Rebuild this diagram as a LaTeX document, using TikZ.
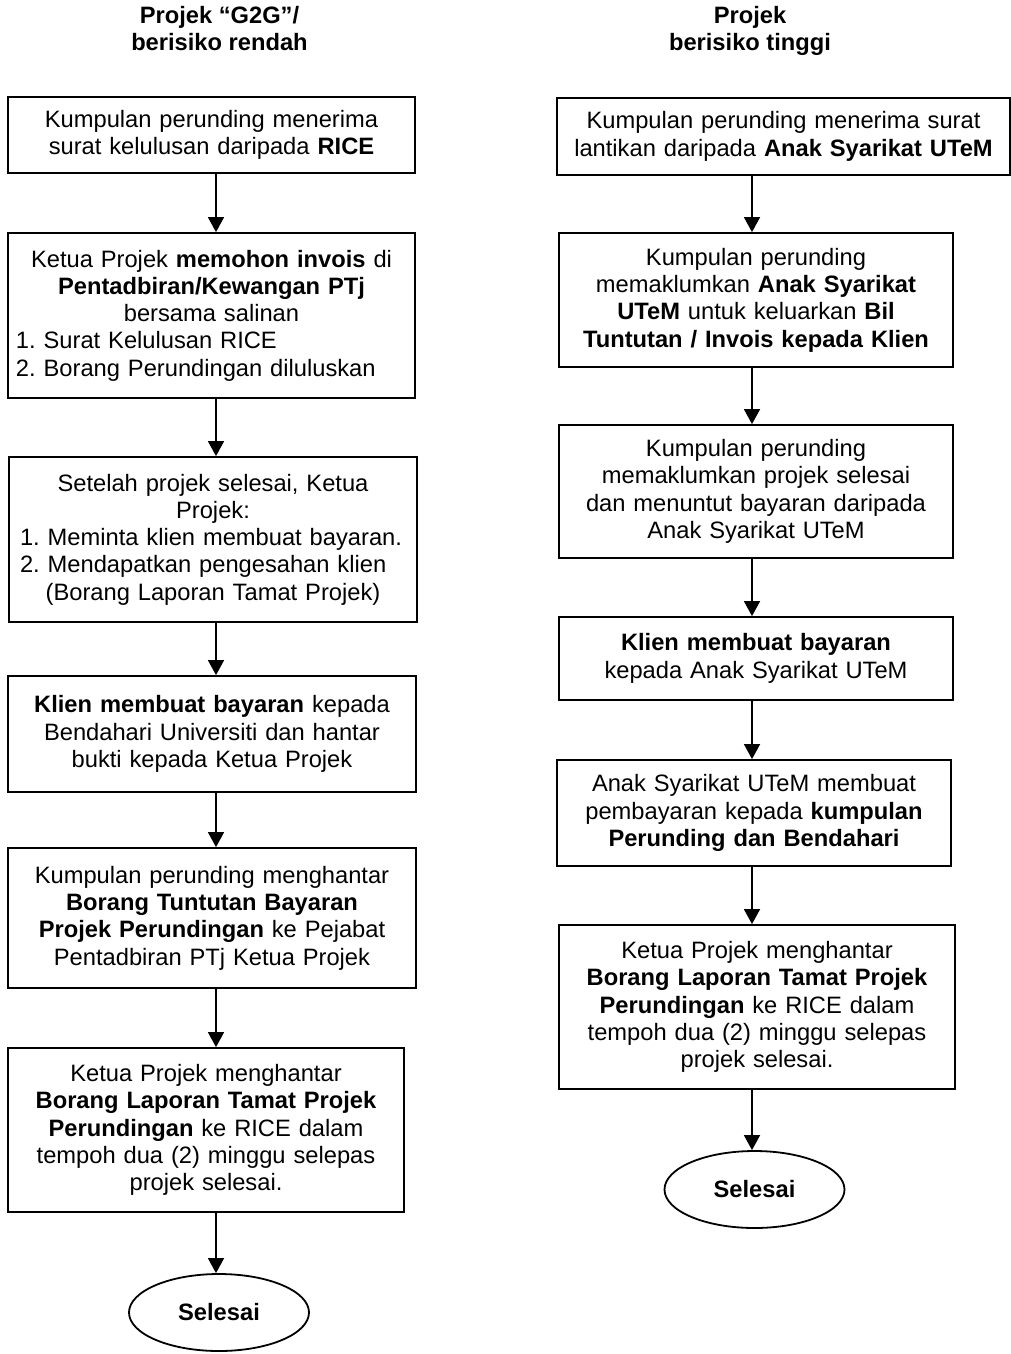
\documentclass[tikz,border=0pt]{standalone}
\usepackage{fontspec}
\setmainfont{Liberation Sans}
\frenchspacing
\usetikzlibrary{arrows.meta,shapes.geometric}
\tikzset{
  stepbox/.style={draw, line width=1.8pt, inner xsep=8pt, inner ysep=0pt, align=center, anchor=center,
    font=\fontsize{23.7pt}{27.3pt}\selectfont\frenchspacing},
  endoval/.style={draw, ellipse, line width=1.8pt, inner sep=0pt, minimum width=180pt, minimum height=77pt,
    font=\fontsize{23.7pt}{27.3pt}\selectfont\bfseries},
  coltitle/.style={align=center, anchor=north, inner sep=0pt,
    font=\fontsize{23.7pt}{27pt}\selectfont\bfseries},
  arr/.style={line width=1.6pt, -{Triangle[length=15pt,width=16pt]}}
}
\begin{document}
\begin{tikzpicture}[x=1pt,y=-1pt]
\useasboundingbox[fill=white] (0,0) rectangle (1011,1354);

% titles
\node[coltitle] (tl) at (219.5,6) {Projek “G2G”/\\berisiko rendah};
\node[coltitle] (tr) at (750,6) {Projek\\berisiko tinggi};

% left column
\node[stepbox, text width=391pt, minimum height=76pt] (L1) at (211.5,135)
  {Kumpulan perunding menerima\\surat kelulusan daripada \textbf{RICE}};
\node[stepbox, text width=391pt, minimum height=165pt] (L2) at (211.5,315.5)
  {Ketua Projek \textbf{memohon invois} di\\\textbf{Pentadbiran/Kewangan PTj}\\bersama salinan\\1. Surat Kelulusan RICE\hfill\null\\2. Borang Perundingan diluluskan\hfill\null};
\node[stepbox, text width=392pt, minimum height=165pt] (L3) at (213,539.5)
  {Setelah projek selesai, Ketua\\Projek:\\\hspace*{3pt}1. Meminta klien membuat bayaran.\hfill\null\\\hspace*{3pt}2. Mendapatkan pengesahan klien\hfill\null\\(Borang Laporan Tamat Projek)};
\node[stepbox, text width=392pt, minimum height=116pt] (L4) at (212,734)
  {\textbf{Klien membuat bayaran} kepada\\Bendahari Universiti dan hantar\\bukti kepada Ketua Projek};
\node[stepbox, text width=392pt, minimum height=140pt] (L5) at (212,918)
  {Kumpulan perunding menghantar\\\textbf{Borang Tuntutan Bayaran}\\\textbf{Projek Perundingan} ke Pejabat\\Pentadbiran PTj Ketua Projek};
\node[stepbox, text width=380pt, minimum height=164pt] (L6) at (206,1130)
  {Ketua Projek menghantar\\\textbf{Borang Laporan Tamat Projek}\\\textbf{Perundingan} ke RICE dalam\\tempoh dua (2) minggu selepas\\projek selesai.};
\node[endoval] (LE) at (219,1312.5) {Selesai};

% right column
\node[stepbox, text width=437pt, minimum height=77pt] (R1) at (783.5,136.5)
  {Kumpulan perunding menerima surat\\lantikan daripada \textbf{Anak Syarikat UTeM}};
\node[stepbox, text width=378pt, minimum height=134pt] (R2) at (756,300)
  {Kumpulan perunding\\memaklumkan \textbf{Anak Syarikat}\\\textbf{UTeM} untuk keluarkan \textbf{Bil}\\\textbf{Tuntutan / Invois kepada Klien}};
\node[stepbox, text width=378pt, minimum height=133pt] (R3) at (756,491.5)
  {Kumpulan perunding\\memaklumkan projek selesai\\dan menuntut bayaran daripada\\Anak Syarikat UTeM};
\node[stepbox, text width=378pt, minimum height=83pt] (R4) at (756,658.5)
  {\textbf{Klien membuat bayaran}\\kepada Anak Syarikat UTeM};
\node[stepbox, text width=378pt, minimum height=106pt] (R5) at (754,813)
  {Anak Syarikat UTeM membuat\\pembayaran kepada \textbf{kumpulan}\\\textbf{Perunding dan Bendahari}};
\node[stepbox, text width=380pt, minimum height=164pt] (R6) at (757,1007)
  {Ketua Projek menghantar\\\textbf{Borang Laporan Tamat Projek}\\\textbf{Perundingan} ke RICE dalam\\tempoh dua (2) minggu selepas\\projek selesai.};
\node[endoval] (RE) at (754.5,1189.5) {Selesai};

% arrow columns
\coordinate (lx) at (216,0);
\coordinate (rx) at (752,0);

\draw[arr] (L1.south -| lx) -- (L2.north -| lx);
\draw[arr] (L2.south -| lx) -- (L3.north -| lx);
\draw[arr] (L3.south -| lx) -- (L4.north -| lx);
\draw[arr] (L4.south -| lx) -- (L5.north -| lx);
\draw[arr] (L5.south -| lx) -- (L6.north -| lx);
\draw[arr] (L6.south -| lx) -- (LE.north -| lx);

\draw[arr] (R1.south -| rx) -- (R2.north -| rx);
\draw[arr] (R2.south -| rx) -- (R3.north -| rx);
\draw[arr] (R3.south -| rx) -- (R4.north -| rx);
\draw[arr] (R4.south -| rx) -- (R5.north -| rx);
\draw[arr] (R5.south -| rx) -- (R6.north -| rx);
\draw[arr] (R6.south -| rx) -- (RE.north -| rx);
\end{tikzpicture}
\end{document}
